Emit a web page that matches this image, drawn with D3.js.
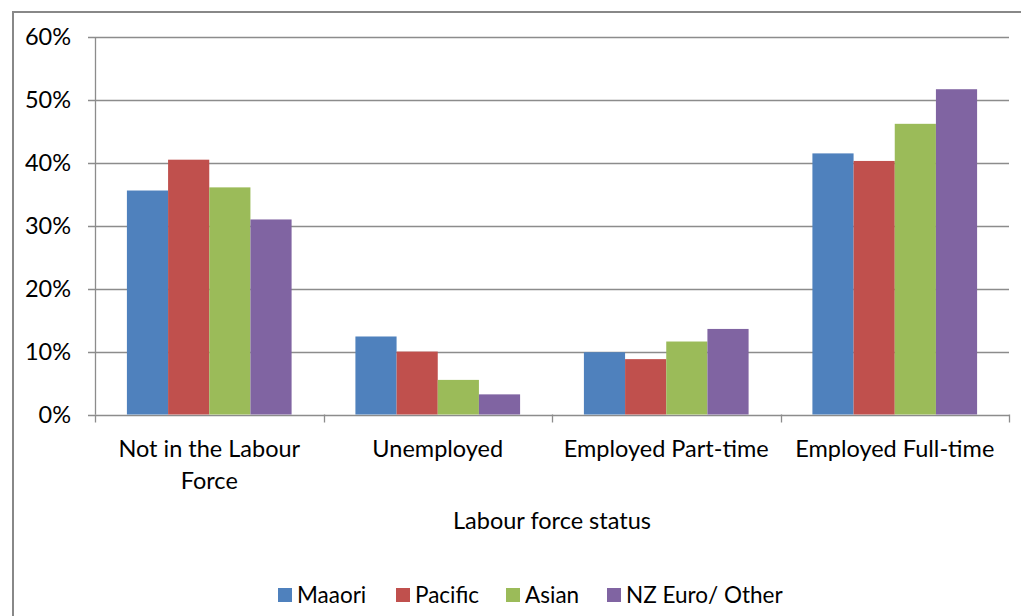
<!DOCTYPE html>
<html>
<head>
<meta charset="utf-8">
<script src="https://cdn.jsdelivr.net/npm/d3@7"></script>
<style>
  html, body { margin: 0; padding: 0; background: #fff; }
  svg { display: block; font-family: Lato, "Open Sans", sans-serif; }
</style>
</head>
<body>
<svg id="chart" width="1021" height="616"></svg>
<script>
// chart values
var categories = ['Not in the Labour Force', 'Unemployed', 'Employed Part-time', 'Employed Full-time'];
var categoryLines = [['Not in the Labour', 'Force'], ['Unemployed'], ['Employed Part-time'], ['Employed Full-time']];
var seriesNames = ['Maaori', 'Pacific', 'Asian', 'NZ Euro/ Other'];
var seriesColors = ['#4F81BD', '#C0504D', '#9BBB59', '#8064A2'];
var maaori = [35.6, 12.4, 9.9, 41.5];
var pacific = [40.5, 10.0, 8.8, 40.3];
var asian = [36.1, 5.5, 11.6, 46.2];
var nzEuro = [31.0, 3.2, 13.6, 51.7];
var yTicks = [0, 10, 20, 30, 40, 50, 60];

var seriesValues = [maaori, pacific, asian, nzEuro];
var fontSize = 23.5;

var svg = d3.select('#chart');

// outer chart border (only left and top show in the crop)
svg.append('path')
  .attr('d', 'M13,616 V12 H1021')
  .attr('fill', 'none')
  .attr('stroke', '#888')
  .attr('stroke-width', 2);

var plotLeft = 95, plotRight = 1009, plotTop = 37, plotBottom = 414.5;

var x = d3.scaleBand()
  .domain(categories)
  .range([plotLeft, plotRight])
  .paddingInner(0)
  .paddingOuter(0);

var x1 = d3.scaleBand()
  .domain(seriesNames)
  .range([0, x.bandwidth()])
  .paddingInner(0)
  .paddingOuter(0.775);

var y = d3.scaleLinear()
  .domain([0, 60])
  .range([plotBottom, plotTop]);

// gridlines + y labels
var yAxis = svg.append('g').attr('class', 'y-axis');
yAxis.selectAll('line.grid')
  .data(yTicks).enter()
  .append('line')
    .attr('class', 'grid')
    .attr('x1', plotLeft - 7)
    .attr('x2', plotRight)
    .attr('y1', function(d) { return Math.round(y(d)) + 0.5; })
    .attr('y2', function(d) { return Math.round(y(d)) + 0.5; })
    .attr('stroke', '#8c8c8c')
    .attr('stroke-width', 1.3);

yAxis.selectAll('text')
  .data(yTicks).enter()
  .append('text')
    .attr('x', 71)
    .attr('y', function(d) { return y(d); })
    .attr('dy', '0.36em')
    .attr('text-anchor', 'end')
    .attr('font-size', fontSize)
    .attr('fill', '#000')
    .text(function(d) { return d + '%'; });

// y axis line
svg.append('line')
  .attr('x1', plotLeft + 0.5).attr('x2', plotLeft + 0.5)
  .attr('y1', plotTop).attr('y2', plotBottom)
  .attr('stroke', '#8c8c8c')
  .attr('stroke-width', 1.3);

// bars
var groups = svg.append('g').attr('class', 'bars')
  .selectAll('g')
  .data(seriesNames).enter()
  .append('g')
    .attr('fill', function(d, i) { return seriesColors[i]; });

groups.selectAll('rect')
  .data(function(d, i) {
    return categories.map(function(c, j) { return {cat: c, series: d, value: seriesValues[i][j]}; });
  }).enter()
  .append('rect')
    .attr('x', function(d) { return x(d.cat) + x1(d.series); })
    .attr('width', x1.bandwidth())
    .attr('y', function(d) { return y(d.value); })
    .attr('height', function(d) { return y(0) - y(d.value); });

// x axis ticks
var xTicks = categories.map(function(c) { return x(c); }).concat([plotRight]);
svg.append('g').selectAll('line')
  .data(xTicks).enter()
  .append('line')
    .attr('x1', function(d) { return Math.round(d) + 0.5; })
    .attr('x2', function(d) { return Math.round(d) + 0.5; })
    .attr('y1', plotBottom)
    .attr('y2', plotBottom + 8)
    .attr('stroke', '#8c8c8c')
    .attr('stroke-width', 1.3);

// category labels
var catLabels = svg.append('g').selectAll('text')
  .data(categories).enter()
  .append('text')
    .attr('x', function(d) { return x(d) + x.bandwidth() / 2; })
    .attr('y', 457)
    .attr('text-anchor', 'middle')
    .attr('font-size', fontSize)
    .attr('fill', '#000');

catLabels.selectAll('tspan')
  .data(function(d, i) { return categoryLines[i]; }).enter()
  .append('tspan')
    .attr('x', function() { return d3.select(this.parentNode).attr('x'); })
    .attr('dy', function(d, i) { return i === 0 ? 0 : 32; })
    .text(function(d) { return d; });

// axis title
svg.append('text')
  .attr('x', 552)
  .attr('y', 529)
  .attr('text-anchor', 'middle')
  .attr('font-size', fontSize)
  .attr('fill', '#000')
  .text('Labour force status');

// legend
var legendX = [278, 396, 506, 607];
var legend = svg.append('g').selectAll('g')
  .data(seriesNames).enter()
  .append('g')
    .attr('transform', function(d, i) { return 'translate(' + legendX[i] + ',588)'; });

legend.append('rect')
  .attr('width', 14)
  .attr('height', 14)
  .attr('fill', function(d, i) { return seriesColors[i]; });

legend.append('text')
  .attr('x', 19)
  .attr('y', 15)
  .attr('font-size', 22.5)
  .attr('fill', '#000')
  .text(function(d) { return d; });
</script>
</body>
</html>
